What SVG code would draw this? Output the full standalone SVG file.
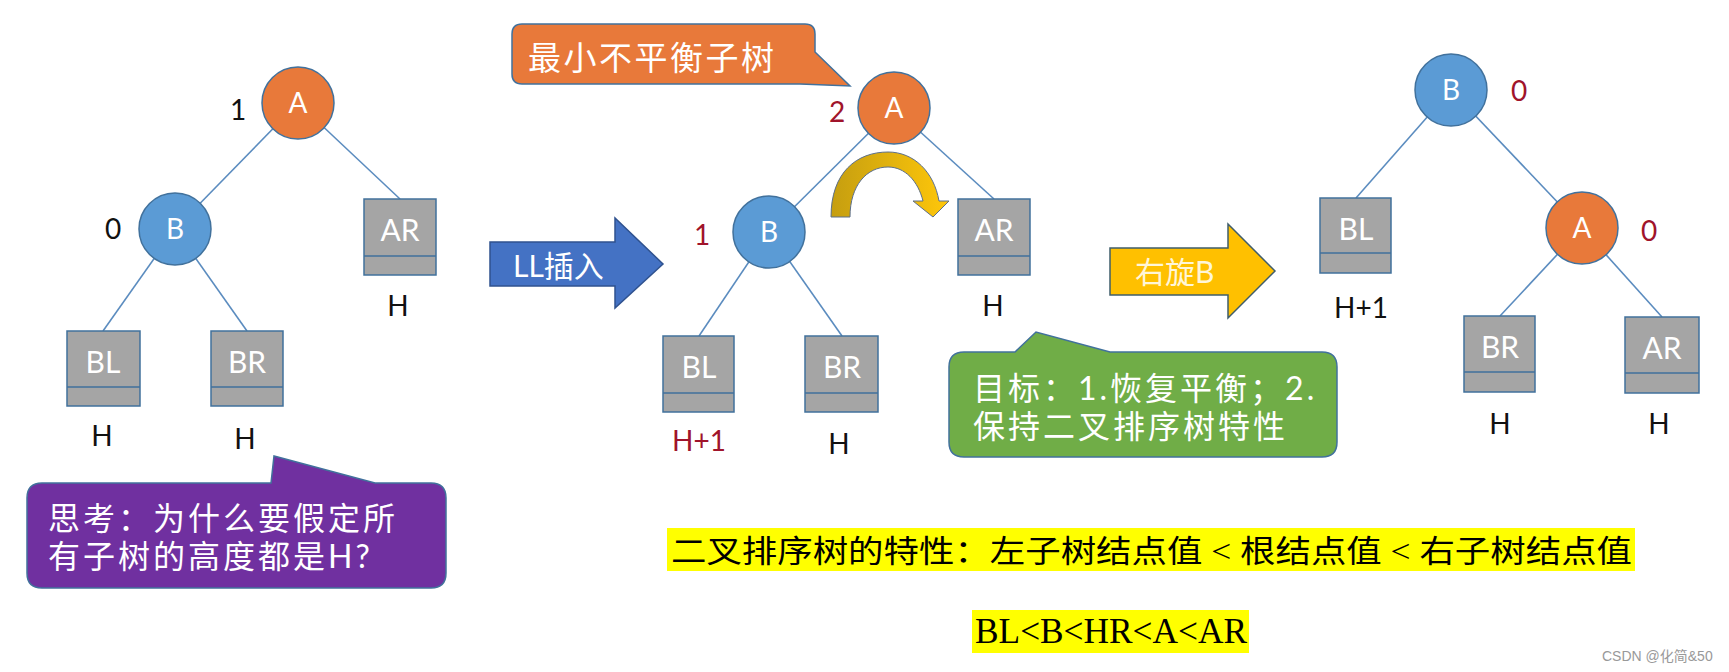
<svg xmlns="http://www.w3.org/2000/svg" width="1729" height="672" viewBox="0 0 1729 672">
<style>
.edge{stroke:#5B8CBF;stroke-width:1.6;fill:none}
.cA{fill:#E8793A;stroke:#41719C;stroke-width:1.5}
.cB{fill:#5B9BD5;stroke:#41719C;stroke-width:1.5}
.box{fill:#A5A5A5;stroke:#41719C;stroke-width:1.5}
.div{stroke:#41719C;stroke-width:1.5}
.nl{font-family:Lato,"Noto Sans",sans-serif;font-size:28px;fill:#fff;text-anchor:middle}
.bl{font-family:Lato,"Noto Sans",sans-serif;font-size:30px;fill:#fff;text-anchor:middle}
.lab{font-family:Lato,"Noto Sans",sans-serif;font-size:28px;fill:#111;text-anchor:middle}
.red{fill:#A0142B}
.cj{font-family:Lato,"Noto Sans CJK SC",sans-serif;font-size:32px;fill:#fff;letter-spacing:3px}
.call{stroke:#41719C;stroke-width:1.5}
.ser{font-family:"Liberation Serif","Noto Sans CJK SC",serif;fill:#000}
</style>
<defs>
<linearGradient id="gold" x1="0" y1="0" x2="1" y2="0">
<stop offset="0" stop-color="#C59E10"/>
<stop offset="1" stop-color="#FFC70A"/>
</linearGradient>
</defs>
<rect width="1729" height="672" fill="#fff"/>

<g id="connectors">
<line class="edge" x1="298" y1="103" x2="175" y2="229"/>
<line class="edge" x1="298" y1="103" x2="400" y2="199"/>
<line class="edge" x1="175" y1="229" x2="103" y2="331"/>
<line class="edge" x1="175" y1="229" x2="247" y2="331"/>
<line class="edge" x1="894" y1="108" x2="769" y2="232"/>
<line class="edge" x1="894" y1="108" x2="994" y2="199"/>
<line class="edge" x1="769" y1="232" x2="699" y2="336"/>
<line class="edge" x1="769" y1="232" x2="842" y2="336"/>
<line class="edge" x1="1451" y1="90" x2="1356" y2="198"/>
<line class="edge" x1="1451" y1="90" x2="1582" y2="228"/>
<line class="edge" x1="1582" y1="228" x2="1500" y2="316"/>
<line class="edge" x1="1582" y1="228" x2="1662" y2="317"/>
</g>

<!-- left tree -->
<g id="t1-A"><circle class="cA" cx="298" cy="103" r="36"/><text class="nl" x="298" y="113">A</text><text class="lab" x="238" y="120">1</text></g>
<g id="t1-B"><circle class="cB" cx="175" cy="229" r="36"/><text class="nl" x="175" y="239">B</text><text class="lab" x="113" y="239">0</text></g>
<g id="t1-AR"><rect class="box" x="364" y="199" width="72" height="76"/><line class="div" x1="364" y1="256" x2="436" y2="256"/><text class="bl" x="400" y="241">AR</text><text class="lab" x="398" y="316">H</text></g>
<g id="t1-BL"><rect class="box" x="67" y="331" width="73" height="75"/><line class="div" x1="67" y1="387" x2="140" y2="387"/><text class="bl" x="103" y="373">BL</text><text class="lab" x="102" y="446">H</text></g>
<g id="t1-BR"><rect class="box" x="211" y="331" width="72" height="75"/><line class="div" x1="211" y1="387" x2="283" y2="387"/><text class="bl" x="247" y="373">BR</text><text class="lab" x="245" y="449">H</text></g>

<!-- middle tree -->
<g id="t2-A"><circle class="cA" cx="894" cy="108" r="36"/><text class="nl" x="894" y="118">A</text><text class="lab red" x="837" y="122">2</text></g>
<g id="t2-B"><circle class="cB" cx="769" cy="232" r="36"/><text class="nl" x="769" y="242">B</text><text class="lab red" x="702" y="245">1</text></g>
<g id="t2-AR"><rect class="box" x="958" y="199" width="72" height="76"/><line class="div" x1="958" y1="256" x2="1030" y2="256"/><text class="bl" x="994" y="241">AR</text><text class="lab" x="993" y="316">H</text></g>
<g id="t2-BL"><rect class="box" x="663" y="336" width="71" height="76"/><line class="div" x1="663" y1="393" x2="734" y2="393"/><text class="bl" x="699" y="378">BL</text><text class="lab red" x="699" y="451">H+1</text></g>
<g id="t2-BR"><rect class="box" x="805" y="336" width="73" height="76"/><line class="div" x1="805" y1="393" x2="878" y2="393"/><text class="bl" x="842" y="378">BR</text><text class="lab" x="839" y="454">H</text></g>

<!-- right tree -->
<g id="t3-B"><circle class="cB" cx="1451" cy="90" r="36"/><text class="nl" x="1451" y="100">B</text><text class="lab red" x="1519" y="101">0</text></g>
<g id="t3-A"><circle class="cA" cx="1582" cy="228" r="36"/><text class="nl" x="1582" y="238">A</text><text class="lab red" x="1649" y="241">0</text></g>
<g id="t3-BL"><rect class="box" x="1320" y="198" width="71" height="75"/><line class="div" x1="1320" y1="253" x2="1391" y2="253"/><text class="bl" x="1356" y="240">BL</text><text class="lab" x="1361" y="318">H+1</text></g>
<g id="t3-BR"><rect class="box" x="1464" y="316" width="71" height="76"/><line class="div" x1="1464" y1="372" x2="1535" y2="372"/><text class="bl" x="1500" y="358">BR</text><text class="lab" x="1500" y="434">H</text></g>
<g id="t3-AR"><rect class="box" x="1625" y="317" width="74" height="76"/><line class="div" x1="1625" y1="373" x2="1699" y2="373"/><text class="bl" x="1662" y="359">AR</text><text class="lab" x="1659" y="434">H</text></g>

<!-- curved rotation arrow -->
<g id="rot-arrow"><path d="M831,217 C831,172 857,152 888,152 C914,152 934,172 939,201 L949,201 L933,217 L913,201 L923,201 C918,181 905,167 888,167 C867,167 850,185 850,217 Z" fill="url(#gold)" stroke="#5C6F8A" stroke-width="1"/></g>

<!-- big arrows -->
<g id="arrow-LL"><path d="M490,242 H615 V218 L663,264 L615,308 V286 H490 Z" fill="#4472C4" stroke="#2F528F" stroke-width="1.5"/><text class="cj" x="513" y="277" style="font-size:30px;letter-spacing:0">LL插入</text></g>
<g id="arrow-rot"><path d="M1110,248 H1228 V224 L1275,271 L1228,318 V295 H1110 Z" fill="#FFC000" stroke="#3F5D6B" stroke-width="1.5"/><text class="cj" x="1135" y="283" style="font-size:30px;letter-spacing:0;fill:#FFF6D8">右旋B</text></g>

<!-- callouts -->
<g id="callout-min"><path class="call" d="M522,24 H805 Q815,24 815,34 V52 L850,86 L800,84 H522 Q512,84 512,74 V34 Q512,24 522,24 Z" fill="#E8793A"/><text class="cj" x="528" y="70" style="font-size:33px;letter-spacing:2.5px">最小不平衡子树</text></g>
<g id="callout-think"><path class="call" d="M42,483 H271 L274,456 L375,483 H431 Q446,483 446,498 V573 Q446,588 431,588 H42 Q27,588 27,573 V498 Q27,483 42,483 Z" fill="#7030A0"/><text class="cj" x="48" y="530">思考：为什么要假定所</text><text class="cj" x="48" y="568">有子树的高度都是H?</text></g>
<g id="callout-goal"><path class="call" d="M964,352 H1015 L1036,332 L1110,352 H1322 Q1337,352 1337,367 V442 Q1337,457 1322,457 H964 Q949,457 949,442 V367 Q949,352 964,352 Z" fill="#70AD47"/><text class="cj" x="973" y="400">目标：1.恢复平衡；2.</text><text class="cj" x="973" y="438">保持二叉排序树特性</text></g>

<!-- highlighted notes -->
<g id="note-property"><rect x="667" y="528" width="968" height="43" fill="#FFFF00"/><text class="ser" x="671" y="562" font-size="31" textLength="961" lengthAdjust="spacingAndGlyphs">二叉排序树的特性：左子树结点值 &lt; 根结点值 &lt; 右子树结点值</text></g>
<g id="note-order"><rect x="972" y="610" width="277" height="43" fill="#FFFF00"/><text class="ser" x="975" y="643" font-size="35" textLength="272" lengthAdjust="spacingAndGlyphs">BL&lt;B&lt;HR&lt;A&lt;AR</text></g>

<text x="1602" y="661" font-family="'Liberation Sans','Noto Sans CJK SC',sans-serif" font-size="14" fill="#999">CSDN @化简&amp;50</text>
</svg>
